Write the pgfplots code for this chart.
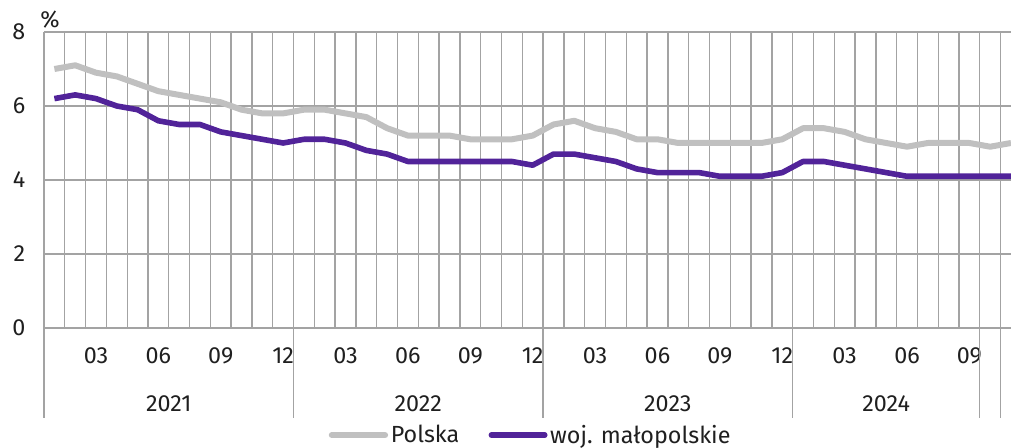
\documentclass[border=0pt]{standalone}
\usepackage{fontspec}
\setmainfont{Fira Sans}
\usepackage{pgfplots}
\pgfplotsset{compat=1.18}
\definecolor{gridc}{RGB}{163,163,163}
\definecolor{polska}{RGB}{192,192,192}
\definecolor{malo}{RGB}{81,35,153}
\pgfplotstableread{
x pl ma
0.5 7.0 6.2
1.5 7.1 6.3
2.5 6.9 6.2
3.5 6.8 6.0
4.5 6.6 5.9
5.5 6.4 5.6
6.5 6.3 5.5
7.5 6.2 5.5
8.5 6.1 5.3
9.5 5.9 5.2
10.5 5.8 5.1
11.5 5.8 5.0
12.5 5.9 5.1
13.5 5.9 5.1
14.5 5.8 5.0
15.5 5.7 4.8
16.5 5.4 4.7
17.5 5.2 4.5
18.5 5.2 4.5
19.5 5.2 4.5
20.5 5.1 4.5
21.5 5.1 4.5
22.5 5.1 4.5
23.5 5.2 4.4
24.5 5.5 4.7
25.5 5.6 4.7
26.5 5.4 4.6
27.5 5.3 4.5
28.5 5.1 4.3
29.5 5.1 4.2
30.5 5.0 4.2
31.5 5.0 4.2
32.5 5.0 4.1
33.5 5.0 4.1
34.5 5.0 4.1
35.5 5.1 4.2
36.5 5.4 4.5
37.5 5.4 4.5
38.5 5.3 4.4
39.5 5.1 4.3
40.5 5.0 4.2
41.5 4.9 4.1
42.5 5.0 4.1
43.5 5.0 4.1
44.5 5.0 4.1
45.5 4.9 4.1
46.5 5.0 4.1
}\data
\begin{document}
\begin{tikzpicture}
\begin{axis}[
  at={(0pt,0pt)}, anchor=south west,
  width=725.25pt, height=222pt, scale only axis,
  clip=false,
  xmin=0, xmax=46.5, ymin=0, ymax=8,
  axis line style={draw=none},
  ytick={0,2,4,6,8}, yticklabels={0,2,4,6,8},
  xtick={2.5,5.5,...,44.5},
  xticklabels={03,06,09,12,03,06,09,12,03,06,09,12,03,06,09},
  minor xtick={0,1,...,46},
  xminorgrids, ymajorgrids, xmajorgrids=false,
  grid style={gridc, line width=1pt},
  minor grid style={gridc, line width=1pt},
  major tick length=0pt, minor tick length=0pt,
  tick label style={font=\fontsize{17.5}{20}\selectfont, text=black!88},
  yticklabel style={xshift=-10.5pt},
  xticklabel style={yshift=-11.5pt},
  extra x ticks={6,18,30,40.5},
  extra x tick labels={2021,2022,2023,2024},
  extra x tick style={grid=none, xticklabel style={yshift=-36pt}},
  legend style={at={(0.5036,-0.362)}, anchor=center, draw=none, fill=none,
    font=\fontsize{17.5}{20}\selectfont, text=black!88,
    /tikz/every even column/.append style={column sep=20pt},
    inner sep=0pt},
  legend columns=2,
  legend image code/.code={\draw[#1, line cap=round] (0pt,0pt) -- (40pt,0pt);},
]
\addplot[polska, line width=4.5pt, line join=round] table[x=x, y=pl] {\data};
\addlegendentry{Polska}
\addplot[malo, line width=4.2pt, line join=round] table[x=x, y=ma] {\data};
\addlegendentry{woj. małopolskie}
\foreach \v in {0,12,24,36,45,46} {
  \edef\tmp{\noexpand\draw[gridc, line width=1pt] (axis cs:\v,0) -- ++(0pt,-67.5pt);}
  \tmp
}
\node[anchor=base west, inner sep=0pt, font=\fontsize{17.5}{20}\selectfont, text=black!88]
  at ([xshift=-3pt, yshift=3pt]rel axis cs:0,1) {\%};
\end{axis}
\pgfresetboundingbox
\path (-33pt,-90pt) rectangle (725.25pt,246pt);
\end{tikzpicture}
\end{document}
